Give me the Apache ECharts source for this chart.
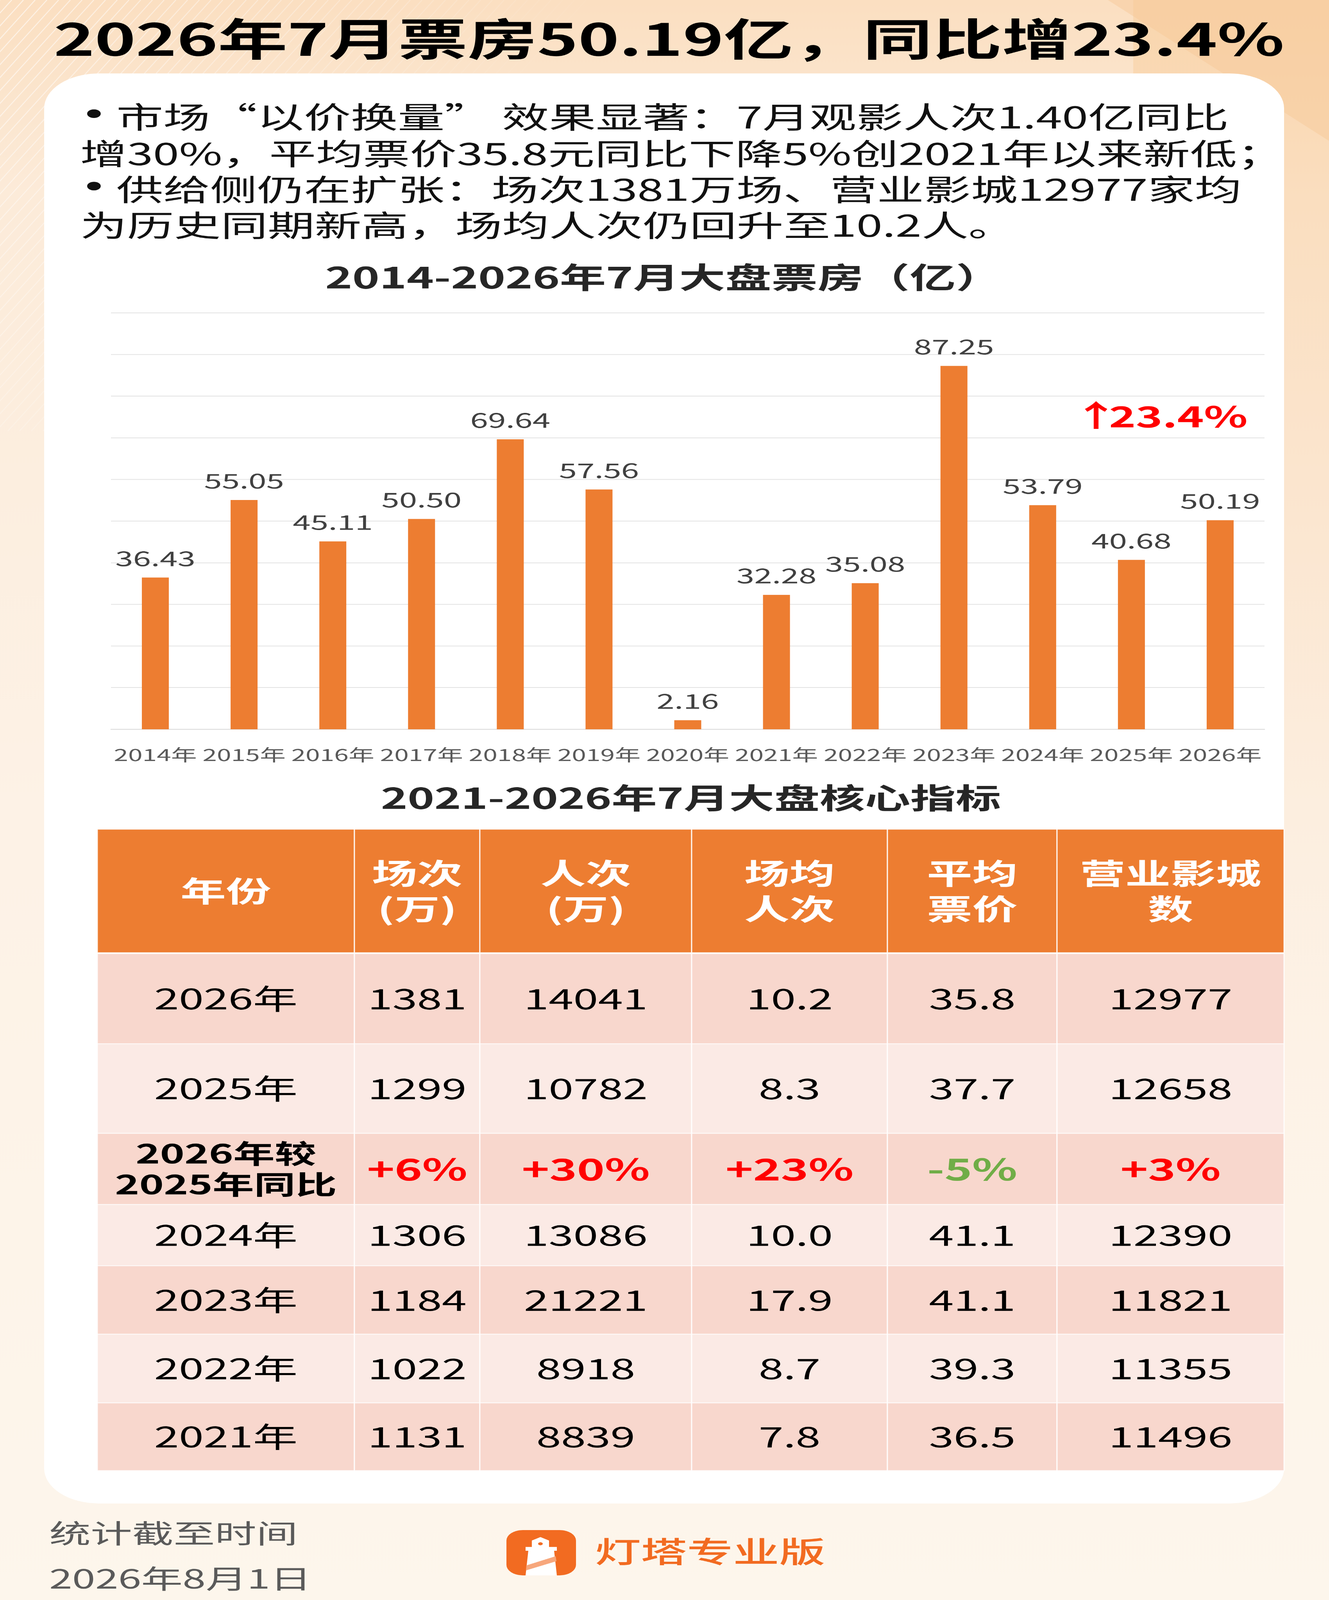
<!DOCTYPE html>
<html>
<head>
<meta charset="utf-8">
<script src="https://cdn.jsdelivr.net/npm/echarts@6/dist/echarts.min.js"></script>
<style>
html, body { margin: 0; padding: 0; background: #fdf5eb; overflow: hidden; }
#main { width: 3401px; height: 6429px; transform-origin: 0 0; }
</style>
</head>
<body>
<div id="main"></div>
<script>
// 票房柱状图数据
let years = ['2014年', '2015年', '2016年', '2017年', '2018年', '2019年', '2020年', '2021年', '2022年', '2023年', '2024年', '2025年', '2026年']
let boxOffice = [36.43, 55.05, 45.11, 50.50, 69.64, 57.56, 2.16, 32.28, 35.08, 87.25, 53.79, 40.68, 50.19]

let titleText = '2026年7月票房50.19亿，同比增23.4%'
let chartTitle = '2014-2026年7月大盘票房（亿）'
let tableTitle = '2021-2026年7月大盘核心指标'
let bulletLines = [
	['•', '市场“以价换量” 效果显著：7月观影人次1.40亿同比'],
	['', '增30%，平均票价35.8元同比下降5%创2021年以来新低；'],
	['•', '供给侧仍在扩张：场次1381万场、营业影城12977家均'],
	['', '为历史同期新高，场均人次仍回升至10.2人。']
]

// 核心指标表
let tableHeaders = ['年份', '场次\n(万)', '人次\n(万)', '场均\n人次', '平均\n票价', '营业影城\n数']
let tableYears = ['2026年', '2025年', '2024年', '2023年', '2022年', '2021年']
let shows = ['1381', '1299', '1306', '1184', '1022', '1131']
let admissions = ['14041', '10782', '13086', '21221', '8918', '8839']
let perShow = ['10.2', '8.3', '10.0', '17.9', '8.7', '7.8']
let avgPrice = ['35.8', '37.7', '41.1', '41.1', '39.3', '36.5']
let cinemas = ['12977', '12658', '12390', '11821', '11355', '11496']
let yoyLabel = '2026年较\n2025年同比'
let yoyValues = ['+6%', '+30%', '+23%', '-5%', '+3%']

let footerLines = ['统计截至时间', '2026年8月1日']
let brandName = '灯塔专业版'

const FONT = "'Noto Sans CJK SC', 'Noto Sans', sans-serif"
const W = 3401, H = 6429

// 窗口高度不足时整体缩放以完整显示
let box = document.getElementById('main')
let sx = window.innerWidth / W, sy = window.innerHeight / H
if (Math.abs(sx - 1) > 0.002 || Math.abs(sy - 1) > 0.002) {
	box.style.transform = 'scale(' + sx + ',' + sy + ')'
}

// 表格布局（列宽、行高，单位=像素）
const colEdges = [0, 658, 979, 1521, 2022, 2456, 3037]
const rowEdges = [0, 500, 862, 1222, 1508, 1754, 2029, 2305, 2577]

let yearRow = i => [tableYears[i], shows[i], admissions[i], perShow[i], avgPrice[i], cinemas[i]]
let tableRows = [
	tableHeaders,
	yearRow(0),
	yearRow(1),
	[yoyLabel].concat(yoyValues),
	yearRow(2),
	yearRow(3),
	yearRow(4),
	yearRow(5)
]
let cells = []
tableRows.forEach((row, r) => {
	row.forEach((text, c) => {
		cells.push({ r: r, c: c, text: text })
	})
})

let growth = ((boxOffice[12] / boxOffice[11] - 1) * 100).toFixed(1)

// 左上角背景斜纹
let stripes = []
for (let a = 0; a <= 1500; a += 30) {
	stripes.push({
		type: 'line', z: 0, silent: true,
		shape: { x1: a, y1: 0, x2: a - 1000, y2: 1732 },
		style: { stroke: 'rgba(255,255,255,' + (0.6 * (1 - a / 1600)).toFixed(2) + ')', lineWidth: 3 }
	})
}

let chart = echarts.init(box, null, { width: W, height: H })

let option = {
	animation: false,
	backgroundColor: {
		type: 'linear', x: 0, y: 0, x2: 0, y2: 1,
		colorStops: [
			{ offset: 0, color: '#fbdfc1' },
			{ offset: 0.12, color: '#fcebd9' },
			{ offset: 0.5, color: '#fdf2e6' },
			{ offset: 1, color: '#fdf6ec' }
		]
	},
	textStyle: { fontFamily: FONT },
	graphic: [
		{
			type: 'rect', z: 0, silent: true,
			shape: { x: 2900, y: 0, width: 501, height: 5000 },
			style: {
				fill: {
					type: 'linear', x: 0, y: 0, x2: 0, y2: 1,
					colorStops: [
						{ offset: 0, color: 'rgba(249, 210, 165, 0.7)' },
						{ offset: 0.5, color: 'rgba(250, 220, 190, 0.35)' },
						{ offset: 1, color: 'rgba(253, 242, 230, 0)' }
					]
				}
			}
		},
		{
			type: 'polygon', z: 0, silent: true,
			shape: { points: [[2835, 0], [3401, 0], [3401, 566]] },
			style: { fill: 'rgba(247, 200, 150, 0.45)' }
		},
		...stripes,
		{
			type: 'rect', z: 0,
			shape: { x: 113, y: 295, width: 3173, height: 5746, r: 140 },
			style: { fill: '#ffffff' }
		},
		{
			type: 'text', z: 5,
			style: { text: titleText, x: 1712, y: 156, align: 'center', verticalAlign: 'middle', fontSize: 178, fontWeight: 'bold', fontFamily: FONT, fill: '#000' }
		},
		...bulletLines.map((line, i) => ({
			type: 'text', z: 5,
			style: {
				text: (line[0] ? '{b|' + line[0] + '}' : '') + line[1],
				x: 205, y: [470, 617, 761, 905][i],
				align: 'left', verticalAlign: 'middle',
				fontSize: 120, fontFamily: FONT, fill: '#111',
				rich: { b: { fontFamily: 'DejaVu Sans', fontSize: 120, fill: '#111', padding: [0, 22, 0, 0] } }
			}
		})),
		{
			type: 'text', z: 5,
			style: { text: chartTitle, x: 1698, y: 1114, align: 'center', verticalAlign: 'middle', fontSize: 118, fontWeight: 'bold', fontFamily: FONT, fill: '#262626' }
		},
		// 同比增幅标注
		{
			type: 'text', z: 5,
			style: { text: '↑', x: 2805, y: 1668, align: 'center', verticalAlign: 'middle', fontSize: 120, fontWeight: 'bold', fontFamily: FONT, fill: '#ff0000' }
		},
		{
			type: 'text', z: 5,
			style: { text: growth + '%', x: 2838, y: 1673, align: 'left', verticalAlign: 'middle', fontSize: 116, fontWeight: 'bold', fontFamily: FONT, fill: '#ff0000' }
		},
		{
			type: 'text', z: 5,
			style: { text: tableTitle, x: 1768, y: 3206, align: 'center', verticalAlign: 'middle', fontSize: 116, fontWeight: 'bold', fontFamily: FONT, fill: '#262626' }
		},
		...footerLines.map((line, i) => ({
			type: 'text', z: 5,
			style: { text: line, x: 126, y: [6161, 6343][i], align: 'left', verticalAlign: 'middle', fontSize: 106, fontFamily: FONT, fill: '#5a5a5a' }
		})),
		// 灯塔图标
		{
			type: 'group', z: 5,
			children: [
				{ type: 'rect', shape: { x: 1296, y: 6148, width: 178, height: 182, r: 42 }, style: { fill: '#f26b21' } },
				{ type: 'polygon', shape: { points: [[1383, 6176], [1405, 6190], [1405, 6216], [1361, 6216], [1361, 6190]] }, style: { fill: '#fff' } },
				{ type: 'circle', shape: { cx: 1383, cy: 6203, r: 6 }, style: { fill: '#f26b21' } },
				{ type: 'rect', shape: { x: 1345, y: 6216, width: 80, height: 15 }, style: { fill: '#fff' } },
				{ type: 'polygon', shape: { points: [[1352, 6231], [1418, 6231], [1425, 6330], [1345, 6330]] }, style: { fill: '#fff' } },
				{ type: 'polygon', shape: { points: [[1347, 6290], [1422, 6253], [1424, 6273], [1346, 6310]] }, style: { fill: '#f7a77c' } }
			]
		},
		{
			type: 'text', z: 5,
			style: { text: brandName, x: 1522, y: 6234, align: 'left', verticalAlign: 'middle', fontSize: 118, fontWeight: 500, fontFamily: FONT, fill: '#f26b21' }
		}
	],
	grid: [
		{ left: 284, right: 165, top: 1257, bottom: 3499 },
		{ left: 249, top: 3332, width: 3037, height: 2577 }
	],
	xAxis: [
		{
			type: 'category',
			gridIndex: 0,
			data: years,
			axisLine: { lineStyle: { color: '#d9d9d9', width: 3 } },
			axisTick: { show: false },
			axisLabel: { interval: 0, margin: 70, fontSize: 66, color: '#595959', fontFamily: FONT }
		},
		{ type: 'value', gridIndex: 1, min: 0, max: 3037, show: false }
	],
	yAxis: [
		{
			type: 'value',
			gridIndex: 0,
			min: 0,
			max: 100,
			interval: 10,
			axisLabel: { show: false },
			axisLine: { show: false },
			axisTick: { show: false },
			splitLine: { lineStyle: { color: '#e2e2e2', width: 3 } }
		},
		{ type: 'value', gridIndex: 1, min: 0, max: 2577, inverse: true, show: false }
	],
	series: [
		{
			type: 'bar',
			xAxisIndex: 0,
			yAxisIndex: 0,
			barWidth: 69,
			itemStyle: { color: '#ed7d31' },
			label: {
				show: true,
				position: 'top',
				distance: 36,
				fontSize: 82,
				color: '#404040',
				fontFamily: FONT,
				formatter: p => p.value.toFixed(2)
			},
			data: boxOffice
		},
		{
			type: 'custom',
			xAxisIndex: 1,
			yAxisIndex: 1,
			data: cells.map(c => [c.c, c.r]),
			renderItem: function (params, api) {
				let cell = cells[params.dataIndex]
				let p0 = api.coord([colEdges[cell.c], rowEdges[cell.r]])
				let p1 = api.coord([colEdges[cell.c + 1], rowEdges[cell.r + 1]])
				let w = p1[0] - p0[0]
				let h = p1[1] - p0[1]
				let fill, color = '#000', size = 114, weight = 'normal', lh = 130
				if (cell.r === 0) {
					fill = '#ed7d31'; color = '#fff'; size = 116; weight = 'bold'; lh = 143
					h -= 4
				} else {
					fill = cell.r % 2 === 1 ? '#f8d7cd' : '#fbeae5'
				}
				if (cell.r === 3) {
					weight = 'bold'
					if (cell.c === 0) {
						size = 106; lh = 124
					} else {
						size = 120
						color = cell.text.charAt(0) === '-' ? '#70ad47' : '#ff0000'
					}
				}
				return {
					type: 'group',
					children: [
						{
							type: 'rect',
							shape: { x: p0[0], y: p0[1], width: w, height: h },
							style: { fill: fill, stroke: 'rgba(255,255,255,0.85)', lineWidth: 3 }
						},
						{
							type: 'text',
							style: {
								text: cell.text,
								x: p0[0] + w / 2,
								y: p0[1] + h / 2,
								align: 'center',
								verticalAlign: 'middle',
								fontSize: size,
								fontWeight: weight,
								lineHeight: lh,
								fontFamily: FONT,
								fill: color
							}
						}
					]
				}
			}
		}
	]
}

chart.setOption(option)
</script>
</body>
</html>
